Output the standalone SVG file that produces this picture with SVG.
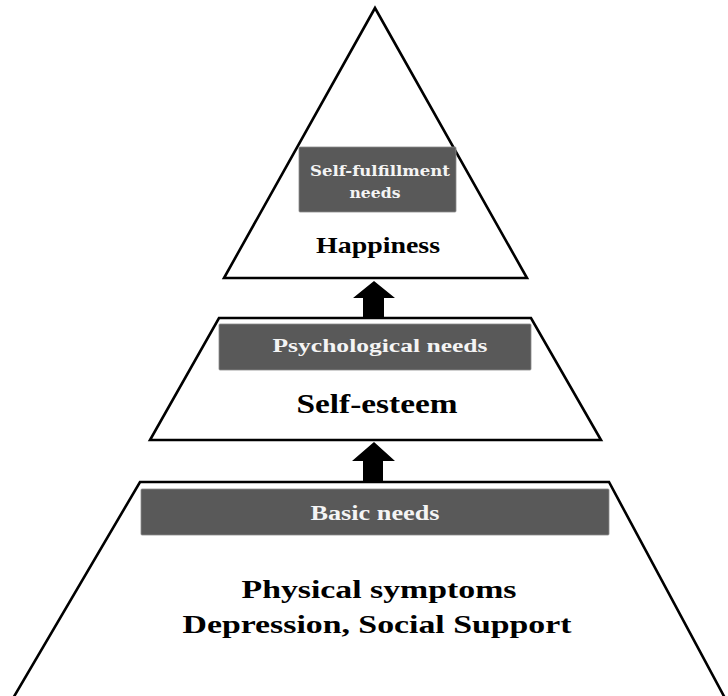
<svg xmlns="http://www.w3.org/2000/svg" width="728" height="696" viewBox="0 0 728 696">
<style>
.shape{fill:#fff;stroke:#000;stroke-width:2.6;stroke-linejoin:miter}
.box{fill:#595959;stroke:#8a8a8a;stroke-width:0.8}
.lbl{font-family:"Liberation Serif","Times New Roman",serif;font-weight:bold;fill:#f4f4f4;text-anchor:middle}
.lbl2{font-family:"DejaVu Serif","Liberation Serif",serif;font-weight:bold;fill:#f4f4f4;text-anchor:middle}
.main{font-family:"Liberation Serif","Times New Roman",serif;font-weight:bold;fill:#000;text-anchor:middle}
.arrow{fill:#000}
</style>
<rect width="728" height="696" fill="#fff"/>
<g id="level-top">
<polygon class="shape" points="375,8 224,278 527,278"/>
<rect class="box" x="299" y="147" width="157" height="65" rx="1"/>
<text class="lbl2" x="380" y="176" font-size="14" textLength="140" lengthAdjust="spacingAndGlyphs">Self-fulfillment</text>
<text class="lbl2" x="375" y="198" font-size="14" textLength="51" lengthAdjust="spacingAndGlyphs">needs</text>
<text class="main" x="378" y="253" font-size="23" textLength="124" lengthAdjust="spacingAndGlyphs">Happiness</text>
</g>
<g id="level-middle">
<polygon class="shape" points="219,318 531,318 601,440 150,440"/>
<rect class="box" x="219" y="324" width="312" height="46" rx="1"/>
<text class="lbl" x="380" y="352" font-size="19" textLength="215" lengthAdjust="spacingAndGlyphs">Psychological  needs</text>
<text class="main" x="377" y="413" font-size="28" textLength="161" lengthAdjust="spacingAndGlyphs">Self-esteem</text>
</g>
<g id="level-bottom">
<polyline class="shape" points="12,700 140,482 609,482 726,700"/>
<rect class="box" x="141" y="489" width="468" height="46" rx="1"/>
<text class="lbl" x="375" y="520" font-size="20" textLength="129" lengthAdjust="spacingAndGlyphs">Basic needs</text>
<text class="main" x="379" y="598" font-size="26" textLength="275" lengthAdjust="spacingAndGlyphs">Physical symptoms</text>
<text class="main" x="377" y="633" font-size="26" textLength="389" lengthAdjust="spacingAndGlyphs">Depression, Social Support</text>
</g>
<g id="connectors">
<polygon class="arrow" points="374,281 395,298 384,298 384,319 363,319 363,298 353,298"/>
<polygon class="arrow" points="374,442 395,461 383,461 383,482 363,482 363,461 352,461"/>
</g>
</svg>
